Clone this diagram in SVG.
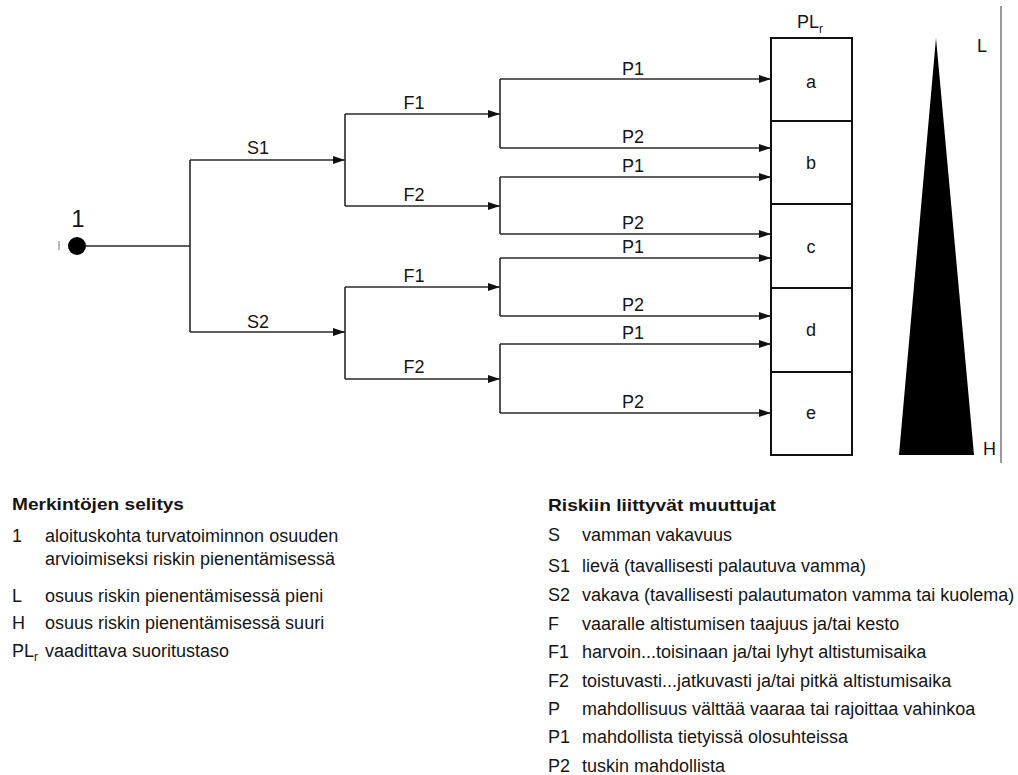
<svg xmlns="http://www.w3.org/2000/svg" width="1018" height="775" viewBox="0 0 1018 775">
<style>
text{font-family:"Liberation Sans",Arial,sans-serif;fill:#151515}
.lbl{font-size:18px;text-anchor:middle}
.leg{font-size:18px}
.ttl{font-size:17px;font-weight:bold}
.con{fill:none;stroke:#2a2a2a;stroke-width:1.6}
.arr{fill:none;stroke:#2a2a2a;stroke-width:1.6;marker-end:url(#ah)}
.box{fill:#fff;stroke:#111;stroke-width:2}
</style>
<defs>
<marker id="ah" markerUnits="userSpaceOnUse" markerWidth="12" markerHeight="10" refX="12" refY="5" orient="auto">
<path d="M0,1 L12,5 L0,9 Z" fill="#111"/>
</marker>
</defs>
<rect width="1018" height="775" fill="#fff"/>
<g id="connectors">
<path class="con" d="M86 246 H190 M190 160 V332"/>
<path class="arr" d="M190 160 H345"/>
<path class="arr" d="M190 332 H345"/>
<path class="con" d="M345 114 V206 M345 287 V379"/>
<path class="arr" d="M345 114 H500"/>
<path class="arr" d="M345 206 H500"/>
<path class="arr" d="M345 287 H500"/>
<path class="arr" d="M345 379 H500"/>
<path class="con" d="M500 79 V148 M500 177 V234 M500 258 V316 M500 344 V413"/>
<path class="arr" d="M500 79 H771"/>
<path class="arr" d="M500 148 H771"/>
<path class="arr" d="M500 177 H771"/>
<path class="arr" d="M500 234 H771"/>
<path class="arr" d="M500 258 H771"/>
<path class="arr" d="M500 316 H771"/>
<path class="arr" d="M500 344 H771"/>
<path class="arr" d="M500 413 H771"/>
<text class="lbl" x="258" y="154">S1</text>
<text class="lbl" x="258" y="328">S2</text>
<text class="lbl" x="414" y="109">F1</text>
<text class="lbl" x="414" y="201">F2</text>
<text class="lbl" x="414" y="282">F1</text>
<text class="lbl" x="414" y="373">F2</text>
<text class="lbl" x="633" y="75">P1</text>
<text class="lbl" x="633" y="143">P2</text>
<text class="lbl" x="633" y="172">P1</text>
<text class="lbl" x="633" y="229">P2</text>
<text class="lbl" x="633" y="253">P1</text>
<text class="lbl" x="633" y="311">P2</text>
<text class="lbl" x="633" y="339">P1</text>
<text class="lbl" x="633" y="408">P2</text>
</g>
<g id="start">
<line x1="59" y1="241" x2="59" y2="250" stroke="#888" stroke-width="1.2"/>
<circle cx="77" cy="246" r="9" fill="#000"/>
<text x="78" y="227" style="font-size:24px;text-anchor:middle">1</text>
</g>
<g id="plr-label">
<text x="797" y="28" style="font-size:18px">PL<tspan style="font-size:12px" dy="5">r</tspan></text>
</g>
<g id="box-a"><rect class="box" x="771" y="38" width="81" height="83"/><text class="lbl" x="811" y="88">a</text></g>
<g id="box-b"><rect class="box" x="771" y="121" width="81" height="83"/><text class="lbl" x="811" y="169">b</text></g>
<g id="box-c"><rect class="box" x="771" y="204" width="81" height="84"/><text class="lbl" x="811" y="253">c</text></g>
<g id="box-d"><rect class="box" x="771" y="288" width="81" height="84"/><text class="lbl" x="811" y="336">d</text></g>
<g id="box-e"><rect class="box" x="771" y="372" width="81" height="83"/><text class="lbl" x="811" y="419">e</text></g>
<g id="triangle"><polygon points="936,38 974,455 899,455" fill="#000"/></g>
<g id="scale">
<line x1="1001" y1="6" x2="1001" y2="463" stroke="#777" stroke-width="1.5"/>
<text x="977" y="52" style="font-size:18px">L</text>
<text x="983" y="455" style="font-size:18px">H</text>
</g>
<g id="legend-left">
<text class="ttl" x="12" y="510" textLength="172" lengthAdjust="spacingAndGlyphs">Merkintöjen selitys</text>
<text class="leg" x="12" y="542">1</text>
<text class="leg" x="45" y="542">aloituskohta turvatoiminnon osuuden</text>
<text class="leg" x="45" y="565">arvioimiseksi riskin pienentämisessä</text>
<text class="leg" x="12" y="602">L</text>
<text class="leg" x="45" y="602">osuus riskin pienentämisessä pieni</text>
<text class="leg" x="12" y="629">H</text>
<text class="leg" x="45" y="629">osuus riskin pienentämisessä suuri</text>
<text class="leg" x="12" y="657">PL<tspan style="font-size:12px" dy="4">r</tspan></text>
<text class="leg" x="45" y="657">vaadittava suoritustaso</text>
</g>
<g id="legend-right">
<text class="ttl" x="548" y="511" textLength="228" lengthAdjust="spacingAndGlyphs">Riskiin liittyvät muuttujat</text>
<text class="leg" x="548" y="541">S</text>
<text class="leg" x="582" y="541">vamman vakavuus</text>
<text class="leg" x="548" y="572">S1</text>
<text class="leg" x="582" y="572">lievä (tavallisesti palautuva vamma)</text>
<text class="leg" x="548" y="601">S2</text>
<text class="leg" x="582" y="601">vakava (tavallisesti palautumaton vamma tai kuolema)</text>
<text class="leg" x="548" y="630">F</text>
<text class="leg" x="582" y="630">vaaralle altistumisen taajuus ja/tai kesto</text>
<text class="leg" x="548" y="658">F1</text>
<text class="leg" x="582" y="658">harvoin...toisinaan ja/tai lyhyt altistumisaika</text>
<text class="leg" x="548" y="687">F2</text>
<text class="leg" x="582" y="687">toistuvasti...jatkuvasti ja/tai pitkä altistumisaika</text>
<text class="leg" x="548" y="715">P</text>
<text class="leg" x="582" y="715">mahdollisuus välttää vaaraa tai rajoittaa vahinkoa</text>
<text class="leg" x="548" y="743">P1</text>
<text class="leg" x="582" y="743">mahdollista tietyissä olosuhteissa</text>
<text class="leg" x="548" y="772">P2</text>
<text class="leg" x="582" y="772">tuskin mahdollista</text>
</g>
</svg>
